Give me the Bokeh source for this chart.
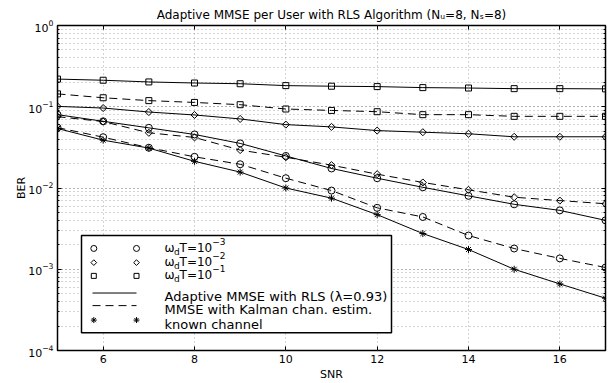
import numpy as np
from bokeh.plotting import figure
from bokeh.models import Range1d, LinearScale, LinearAxis, LogAxis, FixedTicker, LogTicker, Label
from bokeh.embed import file_html
from bokeh.resources import INLINE

# ---------------- data ----------------
snr = [5, 6, 7, 8, 9, 10, 11, 12, 13, 14, 15, 16, 17]
# Adaptive MMSE with RLS (solid lines)
rls_wd1e3 = [0.0799, 0.0662, 0.0550, 0.0456, 0.0354, 0.0248, 0.0174, 0.0132, 0.0102, 0.0080, 0.0063, 0.0053, 0.0040]
rls_wd1e2 = [0.101, 0.0964, 0.0861, 0.0792, 0.0708, 0.0603, 0.0565, 0.0509, 0.0486, 0.0465, 0.0427, 0.0427, 0.0427]
rls_wd1e1 = [0.219, 0.212, 0.202, 0.196, 0.192, 0.182, 0.179, 0.177, 0.172, 0.170, 0.167, 0.167, 0.166]
# MMSE with Kalman channel estimation (dashed lines)
kal_wd1e3 = [0.0554, 0.0422, 0.0313, 0.0242, 0.0196, 0.0132, 0.0093, 0.0057, 0.0044, 0.0026, 0.0018, 0.00136, 0.00105]
kal_wd1e2 = [0.0755, 0.0657, 0.0478, 0.0419, 0.0293, 0.0239, 0.0191, 0.0148, 0.0117, 0.0095, 0.0077, 0.0070, 0.0064]
kal_wd1e1 = [0.144, 0.129, 0.119, 0.113, 0.106, 0.0938, 0.0901, 0.0869, 0.0799, 0.0799, 0.0762, 0.0762, 0.0762]
# known channel
known_ch = [0.0540, 0.0388, 0.0310, 0.0213, 0.0157, 0.0100, 0.0075, 0.0047, 0.00275, 0.00175, 0.00100, 0.00066, 0.00044]

x_tick_values = [6, 8, 10, 12, 14, 16]
title_text = "Adaptive MMSE per User with RLS Algorithm (N\u1d64=8, N\u209b=8)"
x_label = "SNR"
y_label = "BER"
wd_exponents = ["\u22123", "\u22122", "\u22121"]
line_labels = ["Adaptive MMSE with RLS (\u03bb=0.93)", "MMSE with Kalman chan. estim.", "known channel"]

# ---------------- layout helpers ----------------
FONT = "DejaVu Sans"
FW, FH = 548, 328  # plot frame in px

W = {' ': 318, 'A': 684, 'M': 863, 'S': 635, 'E': 632, 'U': 732, 'R': 695, 'L': 557, 'N': 748,
     'T': 611, 'a': 613, 'd': 635, 'e': 615, 'g': 635, 'h': 634, 'i': 278, 'l': 278, 'm': 974,
     'o': 612, 'p': 635, 'r': 411, 's': 521, 't': 392, 'u': 634, 'v': 592, 'w': 818, '(': 390,
     ')': 390, '=': 838, ',': 318, '.': 318, '\u2212': 838, '\u03c9': 782, '\u03bb': 592}
for c in "0123456789":
    W[c] = 636


def tw(s, size):
    return sum(W.get(c, 600) for c in s) * size / 1000.0


p = figure(width=613, height=383, y_axis_type="log",
           x_range=Range1d(5, 17), y_range=Range1d(1e-4, 1),
           output_backend="svg", toolbar_location=None,
           min_border_left=57, min_border_right=8, min_border_top=25, min_border_bottom=30,
           background_fill_color="white", border_fill_color="white")
p.outline_line_color = "black"
p.outline_line_width = 1.5
p.extra_x_ranges = {"px": Range1d(0, FW)}
p.extra_y_ranges = {"px": Range1d(FH, 0)}
p.extra_x_scales = {"px": LinearScale()}
p.extra_y_scales = {"px": LinearScale()}

p.title.text = title_text
p.title.text_font = FONT
p.title.text_font_size = "12px"
p.title.text_font_style = "normal"
p.title.text_color = "black"
p.title.align = "center"
p.title.standoff = 7


def style_axis(ax, labels=True):
    ax.axis_line_color = None
    ax.major_tick_in = 4
    ax.major_tick_out = 0
    ax.minor_tick_in = 2
    ax.minor_tick_out = 0
    ax.major_tick_line_color = "black"
    ax.minor_tick_line_color = "black"
    if labels:
        ax.major_label_text_font = FONT
        ax.major_label_text_font_size = "11px"
        ax.major_label_text_color = "black"
        ax.major_label_standoff = 4
        ax.axis_label_text_font = FONT
        ax.axis_label_text_font_size = "11px"
        ax.axis_label_text_font_style = "normal"
        ax.axis_label_text_color = "black"
        ax.axis_label_standoff = 2
    else:
        ax.major_label_text_font_size = "2px"
        ax.major_label_text_color = None
        ax.major_label_standoff = 0


xa = p.xaxis[0]
xa.ticker = FixedTicker(ticks=x_tick_values, minor_ticks=[])
xa.axis_label = x_label
style_axis(xa)
ya = p.yaxis[0]
ya.ticker = LogTicker(num_minor_ticks=10, mantissas=[1])
ya.axis_label = y_label
style_axis(ya)
ya.axis_label_standoff = -3

top = LinearAxis(ticker=FixedTicker(ticks=x_tick_values, minor_ticks=[]))
style_axis(top, labels=False)
p.add_layout(top, "above")
right = LogAxis(ticker=LogTicker(num_minor_ticks=10, mantissas=[1]))
style_axis(right, labels=False)
p.add_layout(right, "right")

p.xgrid.ticker = xa.ticker
p.ygrid.ticker = ya.ticker
for g in (p.xgrid, p.ygrid):
    g.grid_line_color = "#a8a8a8"
    g.grid_line_dash = "1 3"
p.ygrid.minor_grid_line_color = "#a8a8a8"
p.ygrid.minor_grid_line_dash = "1 3"

# ---------------- data marks ----------------
MK = {"o": dict(marker="circle", size=7, angle=0),
      "d": dict(marker="square", size=5, angle=np.pi / 4),
      "s": dict(marker="square", size=6, angle=0),
      "*": dict(marker="asterisk", size=7, angle=0)}
series = [(rls_wd1e1, "s", "solid"), (kal_wd1e1, "s", "8 5"),
          (rls_wd1e2, "d", "solid"), (kal_wd1e2, "d", "8 5"),
          (rls_wd1e3, "o", "solid"), (kal_wd1e3, "o", "8 5"),
          (known_ch, "*", "solid")]
for vals, mk, dash in series:
    p.line(snr, vals, line_color="black", line_width=1, line_dash=dash)
    m = MK[mk]
    p.scatter(snr, vals, marker=m["marker"], size=m["size"], angle=m["angle"],
              fill_color=None, line_color="black", line_width=1)

# ---------------- legend (pixel coordinates inside frame) ----------------
p.quad(left=[24], right=[334], top=[212], bottom=[310], x_range_name="px", y_range_name="px",
       fill_color="white", line_color="black", line_width=1.5)
lx = [36.3, 79]
marker_rows = [225, 239.3, 252.7]
for (k, ry) in zip(["o", "d", "s"], marker_rows):
    m = MK[k]
    p.scatter(lx, [ry, ry], marker=m["marker"], size=m["size"] - 1, angle=m["angle"],
              fill_color=None, line_color="black", line_width=1, x_range_name="px", y_range_name="px")
p.line([35, 79], [270, 270], line_color="black", line_width=1, x_range_name="px", y_range_name="px")
p.line([35, 79], [282.7, 282.7], line_color="black", line_width=1, line_dash="8 5",
       x_range_name="px", y_range_name="px")
p.scatter(lx, [297.3, 297.3], marker="asterisk", size=6, line_color="black", line_width=1,
          x_range_name="px", y_range_name="px")


def add_text(txt, x, y, size):
    p.add_layout(Label(x=x, y=y, x_range_name="px", y_range_name="px", text=txt,
                       text_font=FONT, text_font_size=f"{size}px", text_color="black",
                       text_baseline="alphabetic", text_align="left"))


TX = 107
for expo, ry in zip(wd_exponents, marker_rows):
    x = TX
    by = ry - 0.5
    add_text("\u03c9", x, by, 12); x += tw("\u03c9", 12)
    add_text("d", x, by + 4, 9); x += tw("d", 9)
    add_text("T=10", x, by, 12); x += tw("T=10", 12)
    add_text(expo, x, by - 6.5, 9)
for txt, ry in zip(line_labels, [270, 282.7, 297.3]):
    add_text(txt, TX, ry + 4, 13)

open("out.html", "w").write(file_html(p, INLINE))
